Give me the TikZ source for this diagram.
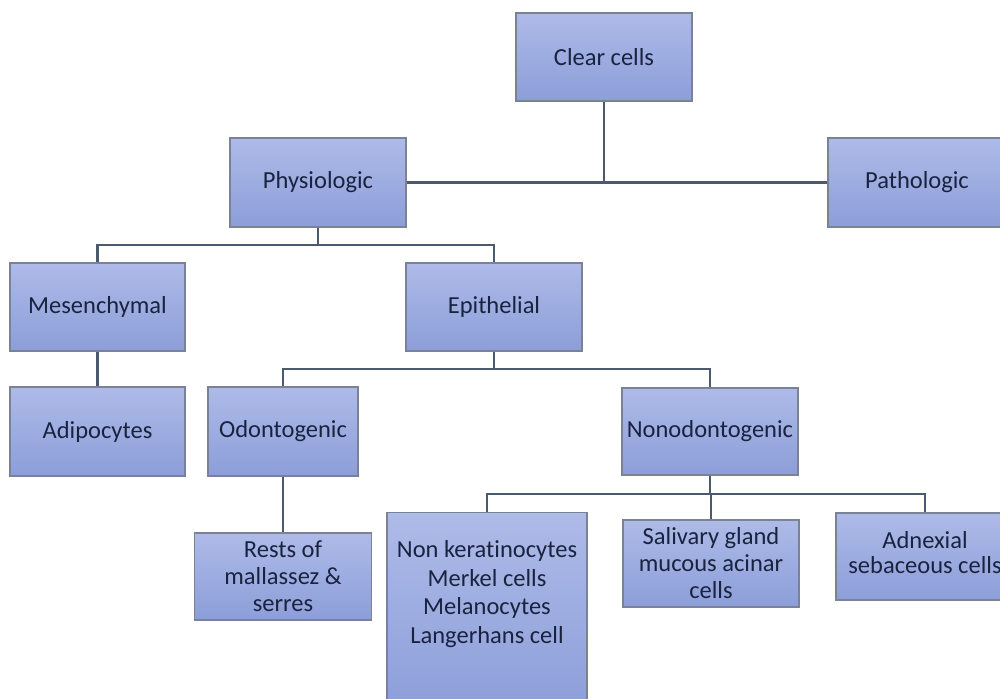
\documentclass[tikz,border=0pt]{standalone}
\usepackage{fontspec}
\setmainfont{Carlito}[Ligatures=NoCommon]
\definecolor{boxtop}{HTML}{AEBBE8}
\definecolor{boxbot}{HTML}{8C9ED9}
\definecolor{boxline}{HTML}{7C8296}
\definecolor{conn}{HTML}{4B5A6C}
\definecolor{txt}{HTML}{19233F}
\tikzset{
  box/.style={draw=boxline, line width=1.3pt, top color=boxtop, bottom color=boxbot,
    text=txt, font=\fontsize{24.5}{27}\selectfont, align=center, inner sep=0pt,
    minimum width=176pt, minimum height=88pt},
  lbl/.style={text=txt, font=\fontsize{24.5}{27}\selectfont, align=center, inner sep=0pt},
  link/.style={draw=conn, line width=2.6pt}
}
\begin{document}
\begin{tikzpicture}[x=1pt,y=-1pt]
\path[use as bounding box, fill=white] (0,0) rectangle (1000,698);
\clip (0,0) rectangle (1000,698);
% boxes
\node[box] (clear) at (604,57) {Clear cells};
\node[box, minimum height=89pt] (phys) at (318,182.5) {Physiologic};
\node[box, minimum width=178pt, minimum height=89pt] (path) at (917,182.5) {Pathologic};
\node[box, minimum width=175pt] (mes) at (97.5,307) {Mesenchymal};
\node[box] (epi) at (494,307) {Epithelial};
\node[box, minimum width=175pt, minimum height=89pt] (adi) at (97.5,431.5) {Adipocytes};
\node[box, minimum width=150pt, minimum height=89pt] (odo) at (283,431.5) {Odontogenic};
\node[box, minimum height=87pt] (non) at (710,431.5) {Nonodontogenic};
\node[box, minimum width=177pt, minimum height=87pt] (rests) at (283,576.5) {Rests of\\mallassez \&\\serres};
\node[box, minimum width=200pt, minimum height=200pt, anchor=north] (nk) at (487,512) {};
\node[lbl, font=\fontsize{24.5}{28.7}\selectfont] (nkt) at (487,594) {Non keratinocytes\\Merkel cells\\Melanocytes\\Langerhans cell};
\node[box, minimum height=87pt] (sal) at (711,563.5) {Salivary gland\\mucous acinar\\cells};
\node[box, minimum width=178pt, minimum height=87pt] (adn) at (925,556.5) {};
\node[lbl, font=\fontsize{24.5}{25}\selectfont] (adnt) at (925,553) {Adnexial\\sebaceous cells};
% connectors
\coordinate (j1) at (604,182);
\draw[link] (phys.east) -- (path.west);
\draw[link] (clear.south) -- (j1);
\coordinate (j2) at (318,245);
\draw[link] (phys.south) -- (j2);
\draw[link] (mes.north) -- (mes.north |- j2) -- (epi.north |- j2) -- (epi.north);
\draw[link] (mes.south) -- (adi.north);
\coordinate (j3) at (494,369);
\draw[link] (epi.south) -- (j3);
\draw[link] (odo.north) -- (odo.north |- j3) -- (non.north |- j3) -- (non.north);
\draw[link] (odo.south) -- (rests.north);
\coordinate (j4) at (710,494);
\draw[link] (non.south) -- (j4);
\draw[link] (nk.north) -- (nk.north |- j4) -- (adn.north |- j4) -- (adn.north);
\draw[link] (sal.north) -- (sal.north |- j4);
\end{tikzpicture}
\end{document}
